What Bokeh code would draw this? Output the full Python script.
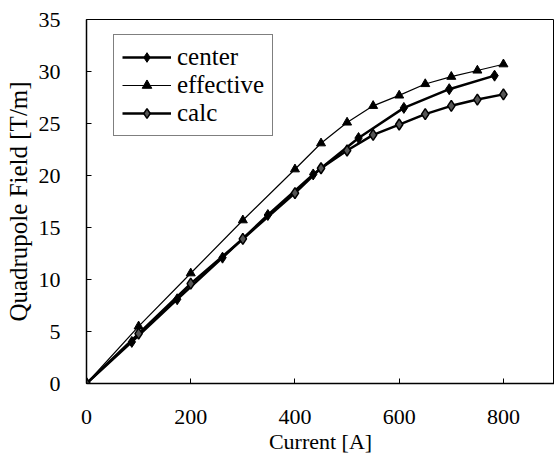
from bokeh.plotting import figure
from bokeh.models import Range1d, FixedTicker, Legend, LegendItem
from bokeh.embed import file_html
from bokeh.resources import INLINE

# Data
center_x = [0, 87, 174, 261, 348, 435, 522, 609, 696, 783]
center_y = [0, 4.0, 8.1, 12.1, 16.2, 20.1, 23.6, 26.5, 28.3, 29.6]
eff_x = [0, 100, 200, 300, 400, 450, 500, 550, 600, 650, 700, 750, 800]
eff_y = [0, 5.5, 10.6, 15.7, 20.6, 23.1, 25.1, 26.7, 27.7, 28.8, 29.5, 30.1, 30.7]
calc_x = [0, 100, 200, 300, 400, 450, 500, 550, 600, 650, 700, 750, 800]
calc_y = [0, 4.8, 9.6, 13.9, 18.3, 20.7, 22.4, 23.9, 24.9, 25.9, 26.7, 27.3, 27.8]
x_ticks = [0, 200, 400, 600, 800]
y_ticks = [0, 5, 10, 15, 20, 25, 30, 35]
x_title = "Current [A]"
y_title = "Quadrupole Field [T/m]"

FONT = "Liberation Serif"

p = figure(width=554, height=471, output_backend="svg", toolbar_location=None,
           x_range=Range1d(0, 898), y_range=Range1d(0, 35),
           min_border_left=86, min_border_top=19, min_border_bottom=88, min_border_right=0)
p.background_fill_color = "white"
p.border_fill_color = "white"
p.outline_line_color = "black"
p.outline_line_width = 1
p.xgrid.visible = False
p.ygrid.visible = False

for ax in (p.xaxis[0], p.yaxis[0]):
    ax.major_label_text_font = FONT
    ax.major_label_text_font_size = "22px"
    ax.major_label_text_color = "black"
    ax.axis_label_text_font = FONT
    ax.axis_label_text_font_style = "normal"
    ax.axis_label_text_color = "black"
    ax.major_tick_in = 5
    ax.major_tick_out = 0
    ax.minor_tick_in = 0
    ax.minor_tick_out = 0
    ax.axis_line_color = "black"
    ax.axis_line_width = 1.5
    ax.major_tick_line_color = "black"

p.xaxis.ticker = FixedTicker(ticks=x_ticks)
p.yaxis.ticker = FixedTicker(ticks=y_ticks)
p.xaxis.axis_label = x_title
p.yaxis.axis_label = y_title
p.xaxis.axis_label_text_font_size = "22px"
p.yaxis.axis_label_text_font_size = "25px"
p.xaxis.major_label_standoff = 26
p.yaxis.major_label_standoff = 26
p.xaxis.axis_label_standoff = 2
p.yaxis.axis_label_standoff = 4

l1 = p.line(center_x, center_y, line_color="black", line_width=2.5)
m1 = p.scatter(center_x, center_y, marker="diamond", size=11, fill_color="black", line_color="black")
l2 = p.line(eff_x, eff_y, line_color="black", line_width=1.2)
m2 = p.scatter(eff_x, eff_y, marker="triangle", size=9, fill_color="black", line_color="black")
l3 = p.line(calc_x, calc_y, line_color="black", line_width=2.5)
m3 = p.scatter(calc_x, calc_y, marker="diamond", size=11, fill_color="#555555",
               line_color="black", line_width=1.5)

legend = Legend(items=[
    LegendItem(label="center", renderers=[l1, m1]),
    LegendItem(label="effective", renderers=[l2, m2]),
    LegendItem(label="calc", renderers=[l3, m3]),
], location=(27, 247))
legend.label_text_font = FONT
legend.label_text_font_size = "25px"
legend.label_text_color = "black"
legend.glyph_width = 49
legend.glyph_height = 24
legend.label_standoff = 6
legend.label_height = 24
legend.spacing = 0
legend.padding = 8
legend.margin = 0
legend.border_line_color = "black"
legend.border_line_width = 1
legend.background_fill_color = "white"
legend.background_fill_alpha = 1
p.add_layout(legend)

open("out.html", "w").write(file_html(p, INLINE))
